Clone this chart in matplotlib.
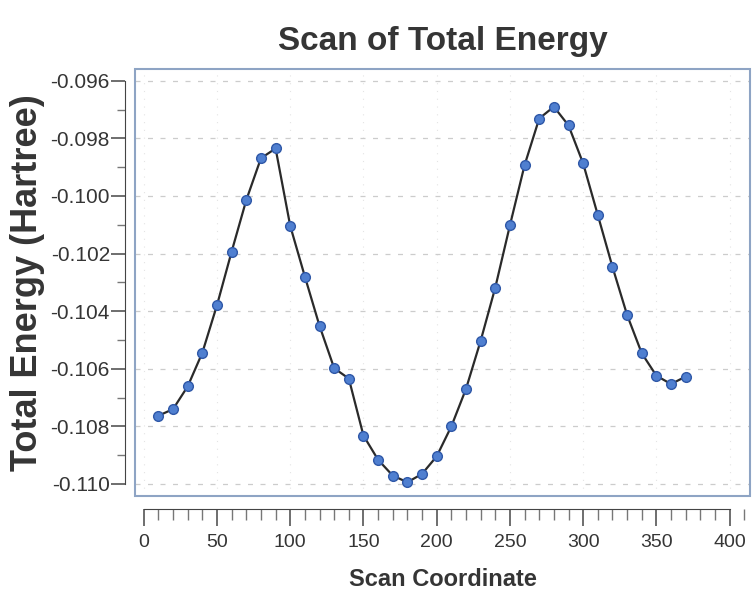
import numpy as np
import matplotlib.pyplot as plt
from matplotlib.patches import Rectangle
from matplotlib.ticker import MultipleLocator

plt.rcParams['font.family'] = ['Liberation Sans', 'DejaVu Sans']

# scan coordinate and energies (Hartree)
scan_coord = [10, 20, 30, 40, 50, 60, 70, 80, 90, 100,
              110, 120, 130, 140, 150, 160, 170, 180, 190, 200,
              210, 220, 230, 240, 250, 260, 270, 280, 290, 300,
              310, 320, 330, 340, 350, 360, 370]
energy = [-0.10763, -0.10740, -0.10661, -0.10544, -0.10379, -0.10193, -0.10014, -0.09869, -0.09835, -0.10104,
          -0.10280, -0.10451, -0.10598, -0.10634, -0.10832, -0.10916, -0.10971, -0.10994, -0.10965, -0.10904,
          -0.10800, -0.10670, -0.10503, -0.10318, -0.10102, -0.09893, -0.09731, -0.09690, -0.09755, -0.09887,
          -0.10066, -0.10246, -0.10413, -0.10546, -0.10624, -0.10653, -0.10627]

txt = '#353535'
fig = plt.figure(figsize=(7.52, 5.92), dpi=100)
ax = fig.add_axes([0.1795, 0.163, 0.818, 0.72])

ax.plot(scan_coord, energy, '-', color='#2a2a2a', lw=1.6, zorder=2)
ax.plot(scan_coord, energy, 'o', ms=7, mfc='#4f7fd0', mec='#2f58a8', mew=1.0, zorder=3)

ax.set_xlim(-6, 414)
ax.set_ylim(-0.1104, -0.0956)

# frame around the plot area
ax.add_patch(Rectangle((0, 0), 1, 1, transform=ax.transAxes, fill=False,
                       edgecolor='#8ea4c4', lw=1.5, clip_on=False, zorder=4))
for s in ['top', 'right']:
    ax.spines[s].set_visible(False)
ax.spines['left'].set_position(('outward', 7))
ax.spines['bottom'].set_position(('outward', 10))
ax.spines['left'].set_bounds(-0.110, -0.096)
ax.spines['bottom'].set_bounds(0, 400)
ax.spines['left'].set_color('#444444')
ax.spines['bottom'].set_color('#444444')

ax.xaxis.set_major_locator(MultipleLocator(50))
ax.xaxis.set_minor_locator(MultipleLocator(10))
ax.yaxis.set_major_locator(MultipleLocator(0.002))
ax.yaxis.set_minor_locator(MultipleLocator(0.001))
ax.yaxis.set_major_formatter(plt.FuncFormatter(lambda v, p: '%.3f' % v))
ax.tick_params(which='major', length=10, width=1.2, color='#555555', labelcolor=txt)
ax.tick_params(which='minor', length=6, width=1.0, color='#777777')
ax.tick_params(axis='x', which='major', length=12, labelsize=14, pad=6)
ax.tick_params(axis='x', which='minor', length=8)
ax.tick_params(axis='y', which='major', labelsize=15, pad=1)

ax.grid(axis='y', which='major', ls=(0, (4, 6)), color='#cccccc', lw=0.9)
ax.grid(axis='x', which='major', ls=(0, (1, 6)), color='#e4e4e4', lw=0.8)

ax.set_title('Scan of Total Energy', fontsize=24, fontweight='bold', color=txt, pad=14)
ax.set_xlabel('Scan Coordinate', fontsize=17, fontweight='bold', color=txt, labelpad=12)
ax.set_ylabel('Total Energy (Hartree)', fontsize=26, fontweight='bold', color=txt, labelpad=4)

fig.savefig('out.png')
